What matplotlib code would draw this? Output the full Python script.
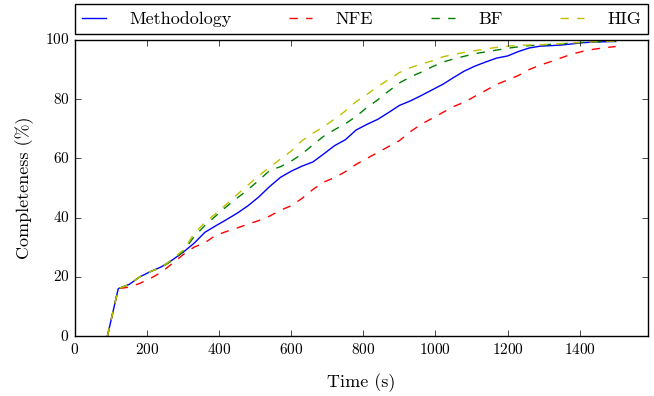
import matplotlib
matplotlib.use("Agg")
from matplotlib import pyplot as plt

times = [90, 120, 150, 180, 210, 240, 270, 300, 330, 360, 390, 420, 450, 480,
         510, 540, 570, 600, 630, 660, 690, 720, 750, 780, 810, 840, 870, 900,
         930, 960, 990, 1020, 1050, 1080, 1110, 1140, 1170, 1200, 1230, 1260,
         1290, 1320, 1350, 1380, 1410, 1440, 1470, 1500]

methodology = [0, 16, 17.4, 20, 21.8, 23.4, 25.7, 28.3, 31.3, 35, 37.2, 39.3,
               41.5, 44, 47, 50.5, 53.6, 55.7, 57.4, 58.8, 61.5, 64.3, 66.3,
               69.6, 71.5, 73.2, 75.5, 77.9, 79.4, 81.2, 83.1, 85, 87.3, 89.5,
               91.2, 92.6, 93.9, 94.6, 96.1, 97.3, 97.9, 98.1, 98.3, 98.7, 99.1,
               99.3, 99.4, 99.5]

nfe = [0, 16, 16.5, 17.8, 19.5, 21.6, 24.5, 27.5, 30, 31.5, 34, 35.3, 36.5,
       37.8, 39, 40.5, 42.5, 44, 46.5, 49.5, 52, 53.5, 55.5, 58, 60, 62, 64,
       66, 69, 71.5, 73.5, 75.5, 77.5, 79, 81, 83, 85, 86.5, 88, 90, 91.5,
       92.7, 94, 95.3, 96.2, 96.9, 97.4, 97.8]

bf = [0, 16, 17.4, 20, 21.8, 23.2, 25.5, 28.5, 33.5, 37.3, 40.5, 43.7, 46.6,
      49.5, 52.6, 55.9, 57.2, 59.1, 61.5, 64.6, 67.5, 69.7, 71.7, 74.2, 77.2,
      79.8, 82.7, 85.5, 87.5, 89.1, 90.9, 92.5, 93.6, 94.5, 95.4, 96, 96.6,
      97.2, 97.7, 98.1, 98.3, 98.5, 98.7, 99, 99.2, 99.4, 99.5, 99.6]

hig = [0, 16, 17.4, 20, 21.8, 23.2, 26, 29, 34.5, 38.3, 41.3, 44.5, 47.8, 51,
       54.2, 57, 59.8, 62.5, 66, 68.5, 70.7, 73.3, 76, 79.2, 81.6, 84.3, 86.6,
       89, 90.6, 91.9, 92.9, 94.3, 95.1, 95.8, 96.4, 97, 97.5, 97.9, 98.2,
       98.3, 98.4, 98.6, 98.8, 99, 99.2, 99.4, 99.5, 99.6]

plt.style.use("classic")
plt.rcParams["font.family"] = "serif"
plt.rcParams["font.serif"] = ["cmr10"]
plt.rcParams["axes.formatter.use_mathtext"] = True
plt.rcParams["figure.facecolor"] = "white"
plt.rcParams["savefig.facecolor"] = "white"

fig = plt.figure(figsize=(6.54, 3.96), dpi=100)
ax = fig.add_axes([0.1147, 0.1515, 0.8763, 0.7475])

ax.plot(times, methodology, "b-", lw=1, label="Methodology")
ax.plot(times, nfe, "r--", lw=1, label="NFE")
ax.plot(times, bf, "g--", lw=1, label="BF")
ax.plot(times, hig, "y--", lw=1, label="HIG")

ax.set_xlim(0, 1590)
ax.set_ylim(0, 100)
ax.set_xticks([0, 200, 400, 600, 800, 1000, 1200, 1400])
ax.set_yticks([0, 20, 40, 60, 80, 100])
ax.tick_params(labelsize=11)
ax.set_xlabel("Time (s)", fontsize=13, labelpad=12)
ax.set_ylabel("Completeness (%)", fontsize=13, labelpad=8)

ax.legend(bbox_to_anchor=(0, 1.02, 1, 0.105), loc="lower left", mode="expand",
          ncol=4, borderaxespad=0, fontsize=13, handlelength=1.3,
          handletextpad=1.3, numpoints=1, fancybox=False)

fig.savefig("out.png", dpi=100)
